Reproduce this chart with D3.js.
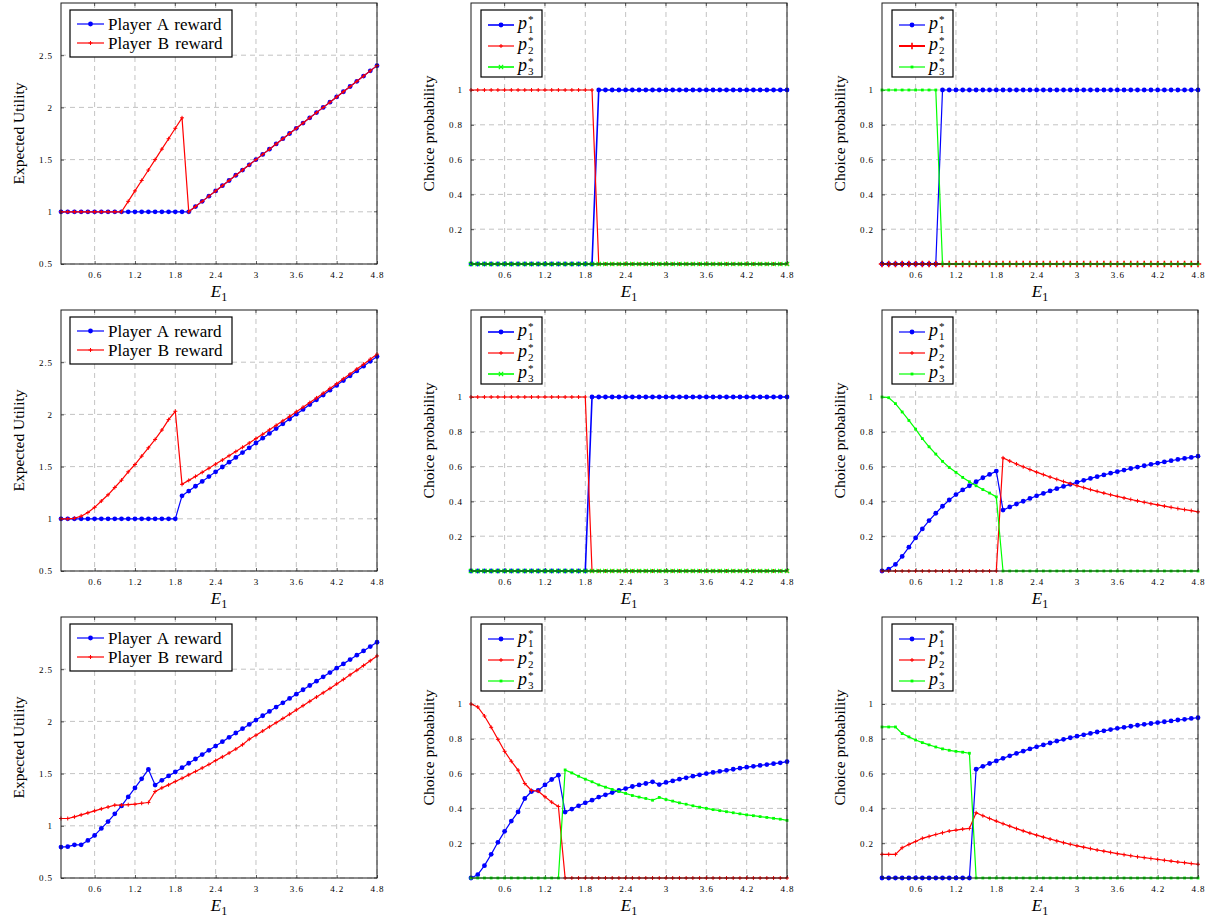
<!DOCTYPE html>
<html>
<head>
<meta charset="utf-8">
<script src="https://cdn.jsdelivr.net/npm/d3@7/dist/d3.min.js"></script>
<style>
  body { margin: 0; background: #fff; }
  svg { display: block; }
  text { font-family: "Liberation Serif", "DejaVu Serif", serif; fill: #000; }
</style>
</head>
<body>
<svg id="chart" width="1210" height="923"></svg>
<script>
// E1 grid shared by every panel
const E1 = [0.1,0.2,0.3,0.4,0.5,0.6,0.7,0.8,0.9,1.0,1.1,1.2,1.3,1.4,1.5,1.6,1.7,1.8,1.9,2.0,
  2.1,2.2,2.3,2.4,2.5,2.6,2.7,2.8,2.9,3.0,3.1,3.2,3.3,3.4,3.5,3.6,3.7,3.8,3.9,4.0,
  4.1,4.2,4.3,4.4,4.5,4.6,4.7,4.8];

const xTicks = [0.6, 1.2, 1.8, 2.4, 3, 3.6, 4.2, 4.8];
const euTicks = [0.5, 1, 1.5, 2, 2.5];
const cpTicks = [0.2, 0.4, 0.6, 0.8, 1];
const rewardNames = ["Player A reward", "Player B reward"];
const probNames = ["1", "2", "3"];

// ---- row 1 ----
const r1RewardA = [1,1,1,1,1,1,1,1,1,1,1,1,1,1,1,1,1,1,1,1,
  1.05,1.1,1.15,1.2,1.25,1.3,1.35,1.4,1.45,1.5,1.55,1.6,1.65,1.7,1.75,1.8,1.85,1.9,1.95,2.0,
  2.05,2.1,2.15,2.2,2.25,2.3,2.35,2.4];
const r1RewardB = [1,1,1,1,1,1,1,1,1,1,1.1,1.2,1.3,1.4,1.5,1.6,1.7,1.8,1.9,1,
  1.05,1.1,1.15,1.2,1.25,1.3,1.35,1.4,1.45,1.5,1.55,1.6,1.65,1.7,1.75,1.8,1.85,1.9,1.95,2.0,
  2.05,2.1,2.15,2.2,2.25,2.3,2.35,2.4];

const r1bP1 = [0,0,0,0,0,0,0,0,0,0,0,0,0,0,0,0,0,0,0,1,
  1,1,1,1,1,1,1,1,1,1,1,1,1,1,1,1,1,1,1,1,1,1,1,1,1,1,1,1];
const r1bP2 = [1,1,1,1,1,1,1,1,1,1,1,1,1,1,1,1,1,1,1,0,
  0,0,0,0,0,0,0,0,0,0,0,0,0,0,0,0,0,0,0,0,0,0,0,0,0,0,0,0];
const r1bP3 = [0,0,0,0,0,0,0,0,0,0,0,0,0,0,0,0,0,0,0,0,
  0,0,0,0,0,0,0,0,0,0,0,0,0,0,0,0,0,0,0,0,0,0,0,0,0,0,0,0];

const r1cP1 = [0,0,0,0,0,0,0,0,0,1,1,1,1,1,1,1,1,1,1,1,
  1,1,1,1,1,1,1,1,1,1,1,1,1,1,1,1,1,1,1,1,1,1,1,1,1,1,1,1];
const r1cP2 = [0,0,0,0,0,0,0,0,0,0,0,0,0,0,0,0,0,0,0,0,
  0,0,0,0,0,0,0,0,0,0,0,0,0,0,0,0,0,0,0,0,0,0,0,0,0,0,0,0];
const r1cP3 = [1,1,1,1,1,1,1,1,1,0,0,0,0,0,0,0,0,0,0,0,
  0,0,0,0,0,0,0,0,0,0,0,0,0,0,0,0,0,0,0,0,0,0,0,0,0,0,0,0];

// ---- row 2 ----
const r2RewardA = [1,1,1,1,1,1,1,1,1,1,1,1,1,1,1,1,1,1,
  1.22,1.266,1.312,1.358,1.404,1.45,1.496,1.542,1.588,1.634,1.68,1.726,1.772,1.818,1.864,1.91,
  1.956,2.002,2.048,2.094,2.14,2.186,2.232,2.278,2.324,2.37,2.416,2.462,2.508,2.554];
const r2RewardB = [1,1,1.005,1.025,1.06,1.11,1.17,1.23,1.3,1.37,1.45,1.52,1.6,1.68,1.76,1.85,1.95,2.03,
  1.33,1.368,1.406,1.445,1.484,1.524,1.563,1.604,1.644,1.685,1.726,1.768,1.81,1.852,1.895,1.938,
  1.981,2.025,2.069,2.113,2.158,2.203,2.249,2.294,2.341,2.387,2.434,2.481,2.529,2.577];

const r2bP1 = [0,0,0,0,0,0,0,0,0,0,0,0,0,0,0,0,0,0,1,1,
  1,1,1,1,1,1,1,1,1,1,1,1,1,1,1,1,1,1,1,1,1,1,1,1,1,1,1,1];
const r2bP2 = [1,1,1,1,1,1,1,1,1,1,1,1,1,1,1,1,1,1,0,0,
  0,0,0,0,0,0,0,0,0,0,0,0,0,0,0,0,0,0,0,0,0,0,0,0,0,0,0,0];
const r2bP3 = [0,0,0,0,0,0,0,0,0,0,0,0,0,0,0,0,0,0,0,0,
  0,0,0,0,0,0,0,0,0,0,0,0,0,0,0,0,0,0,0,0,0,0,0,0,0,0,0,0];

const r2cP1 = [0,0.01,0.038,0.084,0.137,0.19,0.242,0.29,0.332,0.372,0.408,0.439,0.466,0.49,0.513,0.536,0.555,0.574,
  0.35,0.368,0.385,0.401,0.417,0.432,0.446,0.46,0.473,0.486,0.498,0.51,0.521,0.532,0.542,0.552,
  0.562,0.571,0.58,0.589,0.597,0.605,0.613,0.62,0.627,0.634,0.641,0.647,0.653,0.66];
const r2cP2 = [0,0,0,0,0,0,0,0,0,0,0,0,0,0,0,0,0,0,
  0.65,0.632,0.615,0.599,0.583,0.568,0.554,0.54,0.527,0.514,0.502,0.49,0.479,0.468,0.458,0.448,
  0.438,0.429,0.42,0.411,0.403,0.395,0.387,0.38,0.373,0.366,0.359,0.353,0.347,0.34];
const r2cP3 = [1,0.996,0.962,0.914,0.865,0.815,0.761,0.714,0.672,0.63,0.595,0.567,0.538,0.513,0.49,0.468,0.448,0.426,
  0,0,0,0,0,0,0,0,0,0,0,0,0,0,0,0,0,0,0,0,0,0,0,0,0,0,0,0,0,0];

// ---- row 3 ----
const r3RewardA = [0.796,0.8,0.818,0.818,0.86,0.908,0.975,1.04,1.115,1.19,1.277,1.363,1.45,1.54,
  1.39,1.436,1.478,1.516,1.557,1.599,1.64,1.682,1.723,1.764,1.806,1.847,1.889,1.93,1.971,2.013,
  2.054,2.096,2.137,2.178,2.22,2.261,2.303,2.344,2.385,2.427,2.468,2.51,2.551,2.592,2.634,2.675,2.717,2.758];
const r3RewardB = [1.07,1.07,1.086,1.105,1.124,1.143,1.162,1.18,1.198,1.198,1.202,1.207,1.216,1.223,
  1.328,1.363,1.392,1.424,1.455,1.488,1.52,1.554,1.588,1.625,1.66,1.697,1.735,1.777,1.83,1.868,
  1.908,1.948,1.988,2.028,2.069,2.11,2.151,2.192,2.233,2.274,2.316,2.359,2.402,2.446,2.49,2.535,2.581,2.627];

const r3bP1 = [0,0.019,0.071,0.136,0.205,0.268,0.327,0.38,0.457,0.497,0.503,0.535,0.566,0.591,
  0.379,0.396,0.415,0.432,0.447,0.465,0.478,0.491,0.503,0.514,0.526,0.535,0.543,0.553,
  0.537,0.549,0.558,0.568,0.576,0.585,0.593,0.6,0.607,0.613,0.619,0.625,0.631,0.637,
  0.642,0.647,0.652,0.657,0.662,0.669];
const r3bP2 = [1,0.983,0.931,0.866,0.797,0.728,0.671,0.62,0.543,0.503,0.499,0.467,0.436,0.411,
  0,0,0,0,0,0,0,0,0,0,0,0,0,0,0,0,0,0,0,0,0,0,0,0,0,0,0,0,0,0,0,0,0,0];
const r3bP3 = [0,0,0,0,0,0,0,0,0,0,0,0,0,0,
  0.621,0.604,0.585,0.568,0.553,0.535,0.522,0.509,0.497,0.486,0.474,0.465,0.457,0.447,
  0.463,0.451,0.442,0.432,0.424,0.415,0.407,0.4,0.393,0.387,0.381,0.375,0.369,0.363,
  0.358,0.353,0.348,0.343,0.338,0.331];

const r3cP1 = [0,0,0,0,0,0,0,0,0,0,0,0,0,0,
  0.625,0.642,0.658,0.673,0.688,0.702,0.716,0.729,0.742,0.754,0.765,0.776,0.787,0.797,0.806,0.815,
  0.823,0.831,0.839,0.846,0.853,0.86,0.866,0.872,0.878,0.883,0.888,0.893,0.898,0.903,0.908,0.912,0.917,0.921];
const r3cP2 = [0.136,0.136,0.136,0.174,0.193,0.21,0.228,0.239,0.25,0.26,0.27,0.275,0.281,0.285,
  0.375,0.358,0.342,0.327,0.312,0.298,0.284,0.271,0.258,0.246,0.235,0.224,0.213,0.203,0.194,0.185,
  0.177,0.169,0.161,0.154,0.147,0.14,0.134,0.128,0.122,0.117,0.112,0.107,0.102,0.097,0.092,0.088,0.083,0.079];
const r3cP3 = [0.868,0.868,0.868,0.83,0.811,0.793,0.778,0.765,0.753,0.742,0.734,0.728,0.723,0.717,
  0,0,0,0,0,0,0,0,0,0,0,0,0,0,0,0,0,0,0,0,0,0,0,0,0,0,0,0,0,0,0,0,0,0];

// layout
const colLeft = [61, 471, 882];
const rowTop = [3, 310, 617];
const W = 316, H = 261;

const BLUE = "#0000ff", RED = "#ff0000", GREEN = "#00ff00";

const panels = [
  { row: 0, col: 0, kind: "eu", series: [
    { v: r1RewardA, color: BLUE, mark: "circle" },
    { v: r1RewardB, color: RED, mark: "plus" }]},
  { row: 0, col: 1, kind: "cp", series: [
    { v: r1bP1, color: BLUE, mark: "circle", lw: 1.6 },
    { v: r1bP2, color: RED, mark: "plus" },
    { v: r1bP3, color: GREEN, mark: "cross", lw: 1.6 }]},
  { row: 0, col: 2, kind: "cp", series: [
    { v: r1cP1, color: BLUE, mark: "circle" },
    { v: r1cP2, color: RED, mark: "bigplus", lw: 2 },
    { v: r1cP3, color: GREEN, mark: "square" }]},
  { row: 1, col: 0, kind: "eu", series: [
    { v: r2RewardA, color: BLUE, mark: "circle" },
    { v: r2RewardB, color: RED, mark: "plus" }]},
  { row: 1, col: 1, kind: "cp", series: [
    { v: r2bP1, color: BLUE, mark: "circle", lw: 1.6 },
    { v: r2bP2, color: RED, mark: "plus" },
    { v: r2bP3, color: GREEN, mark: "cross", lw: 1.6 }]},
  { row: 1, col: 2, kind: "cp", series: [
    { v: r2cP1, color: BLUE, mark: "circle" },
    { v: r2cP2, color: RED, mark: "plus" },
    { v: r2cP3, color: GREEN, mark: "square" }]},
  { row: 2, col: 0, kind: "eu", series: [
    { v: r3RewardA, color: BLUE, mark: "circle" },
    { v: r3RewardB, color: RED, mark: "plus" }]},
  { row: 2, col: 1, kind: "cp", series: [
    { v: r3bP1, color: BLUE, mark: "circle" },
    { v: r3bP2, color: RED, mark: "plus" },
    { v: r3bP3, color: GREEN, mark: "square" }]},
  { row: 2, col: 2, kind: "cp", series: [
    { v: r3cP1, color: BLUE, mark: "circle" },
    { v: r3cP2, color: RED, mark: "plus" },
    { v: r3cP3, color: GREEN, mark: "square" }]}
];

const svg = d3.select("#chart");

// draws one marker of the given shape at (cx, cy)
function drawMark(g, shape, color, cx, cy) {
  if (shape === "circle") {
    g.append("circle").attr("cx", cx).attr("cy", cy).attr("r", 2.4).attr("fill", color);
  } else if (shape === "square") {
    g.append("rect").attr("x", cx - 1.4).attr("y", cy - 1.4)
      .attr("width", 2.8).attr("height", 2.8).attr("fill", color);
  } else if (shape === "plus" || shape === "bigplus") {
    const s = shape === "plus" ? 2 : 3.2;
    g.append("path").attr("d", `M${cx - s},${cy}H${cx + s}M${cx},${cy - s}V${cy + s}`)
      .attr("stroke", color).attr("stroke-width", shape === "plus" ? 1 : 1.6);
  } else if (shape === "cross") {
    const s = 2.2;
    g.append("path")
      .attr("d", `M${cx - s},${cy - s}L${cx + s},${cy + s}M${cx - s},${cy + s}L${cx + s},${cy - s}`)
      .attr("stroke", color).attr("stroke-width", 1.1);
  }
}

function drawPanel(p) {
  const g = svg.append("g")
    .attr("transform", `translate(${colLeft[p.col]},${rowTop[p.row]})`);

  const x = d3.scaleLinear().domain([0.1, 4.8]).range([0, W]);
  const y = d3.scaleLinear()
    .domain(p.kind === "eu" ? [0.5, 3.0] : [0, 1.5])
    .range([H, 0]);
  const yTicks = p.kind === "eu" ? euTicks : cpTicks;

  // dashed grid
  g.append("g").selectAll("line").data(xTicks).join("line")
    .attr("x1", d => x(d)).attr("x2", d => x(d)).attr("y1", 0).attr("y2", H)
    .attr("stroke", "#b4b4b4").attr("stroke-width", 0.8).attr("stroke-dasharray", "5,4");
  g.append("g").selectAll("line").data(yTicks).join("line")
    .attr("x1", 0).attr("x2", W).attr("y1", d => y(d)).attr("y2", d => y(d))
    .attr("stroke", "#b4b4b4").attr("stroke-width", 0.8).attr("stroke-dasharray", "5,4");

  // axes: labels from d3 axes, ticks inward
  const xAxis = g.append("g").attr("transform", `translate(0,${H})`)
    .call(d3.axisBottom(x).tickValues(xTicks).tickSize(-3).tickPadding(8).tickFormat(d3.format("")));
  const yAxis = g.append("g")
    .call(d3.axisLeft(y).tickValues(yTicks).tickSize(-3).tickPadding(8).tickFormat(d3.format("")));
  [xAxis, yAxis].forEach(a => {
    a.select(".domain").remove();
    a.selectAll(".tick line").attr("stroke", "#333").attr("stroke-width", 0.8);
    a.selectAll(".tick text")
      .style("font-family", '"Liberation Serif", serif')
      .style("font-size", "9px").style("letter-spacing", "0.9px").attr("fill", "#222");
  });
  // ticks on the opposite sides too
  g.append("g").selectAll("line").data(xTicks).join("line")
    .attr("x1", d => x(d)).attr("x2", d => x(d)).attr("y1", 0).attr("y2", 3)
    .attr("stroke", "#333").attr("stroke-width", 0.8);
  g.append("g").selectAll("line").data(yTicks).join("line")
    .attr("x1", W - 3).attr("x2", W).attr("y1", d => y(d)).attr("y2", d => y(d))
    .attr("stroke", "#333").attr("stroke-width", 0.8);

  // series
  const line = d3.line().x(d => x(d[0])).y(d => y(d[1]));
  p.series.forEach(s => {
    const pts = E1.map((e, i) => [e, s.v[i]]);
    g.append("path").datum(pts).attr("d", line)
      .attr("fill", "none").attr("stroke", s.color).attr("stroke-width", s.lw || 1.2)
      .attr("stroke-linejoin", "round");
    const mg = g.append("g");
    pts.forEach(d => drawMark(mg, s.mark, s.color, x(d[0]), y(d[1])));
  });

  // frame
  g.append("rect").attr("width", W).attr("height", H)
    .attr("fill", "none").attr("stroke", "#1a1a1a").attr("stroke-width", 1);

  // axis titles
  const xl = g.append("text").attr("x", W / 2).attr("y", H + 33)
    .attr("text-anchor", "middle").style("font-size", "17px");
  xl.append("tspan").style("font-style", "italic").text("E");
  xl.append("tspan").attr("dy", 4).style("font-size", "12px").text("1");

  g.append("text")
    .attr("transform", `translate(-43,${H / 2}) rotate(-90)`)
    .attr("text-anchor", "middle").attr("dominant-baseline", "central")
    .style("font-size", "15.5px")
    .text(p.kind === "eu" ? "Expected Utility" : "Choice probability");

  // legend
  if (p.kind === "eu") {
    const lg = g.append("g").attr("transform", "translate(9,7)");
    lg.append("rect").attr("width", 162).attr("height", 47)
      .attr("fill", "#fff").attr("stroke", "#000").attr("stroke-width", 1.2);
    p.series.forEach((s, i) => {
      const cy = 14 + i * 19;
      lg.append("line").attr("x1", 7).attr("x2", 34).attr("y1", cy).attr("y2", cy)
        .attr("stroke", s.color).attr("stroke-width", s.lw || 1.2);
      drawMark(lg, s.mark, s.color, 20.5, cy);
      lg.append("text").attr("x", 38).attr("y", cy).attr("dominant-baseline", "central")
        .style("font-size", "17px").style("word-spacing", "2px").text(rewardNames[i]);
    });
  } else {
    const lg = g.append("g").attr("transform", "translate(10,7)");
    lg.append("rect").attr("width", 61).attr("height", 67)
      .attr("fill", "#fff").attr("stroke", "#000").attr("stroke-width", 1.2);
    p.series.forEach((s, i) => {
      const cy = 15 + i * 21;
      lg.append("line").attr("x1", 7).attr("x2", 33).attr("y1", cy).attr("y2", cy)
        .attr("stroke", s.color).attr("stroke-width", s.lw || 1.2);
      drawMark(lg, s.mark, s.color, 20, cy);
      lg.append("text").attr("x", 37).attr("y", cy + 4)
        .style("font-size", "18px").style("font-style", "italic").text("p");
      lg.append("text").attr("x", 47).attr("y", cy - 2).style("font-size", "11px").text("*");
      lg.append("text").attr("x", 47).attr("y", cy + 8).style("font-size", "11px").text(probNames[i]);
    });
  }
}

panels.forEach(drawPanel);
</script>
</body>
</html>
